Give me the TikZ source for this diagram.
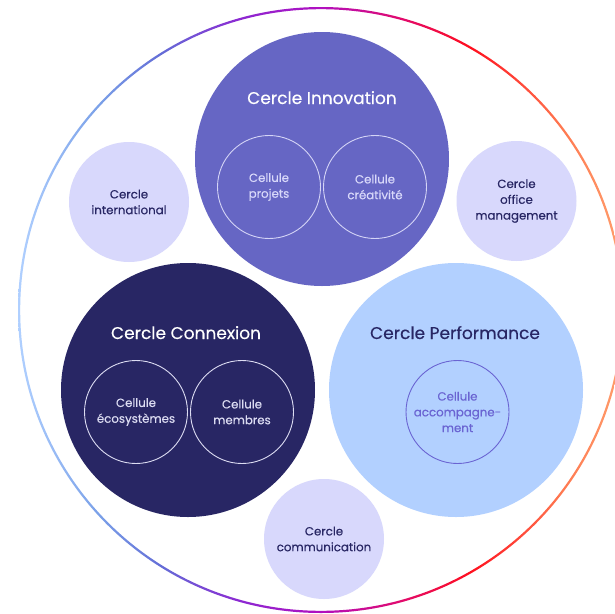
\documentclass[tikz,border=0pt]{standalone}
\usepackage{fontspec}
\setmainfont{Poppins}[FakeBold=0.35]
\usetikzlibrary{positioning}
\definecolor{innovc}{RGB}{102,102,196}
\definecolor{navyc}{RGB}{40,38,100}
\definecolor{perfc}{RGB}{178,208,255}
\definecolor{smallc}{RGB}{216,216,252}
\definecolor{celltxtA}{RGB}{216,216,250}
\definecolor{celllineA}{RGB}{212,212,246}
\definecolor{celllineB}{RGB}{220,220,242}
\definecolor{accc}{RGB}{106,100,210}
\definecolor{g1}{RGB}{176,208,255}
\definecolor{g2}{RGB}{122,160,232}
\definecolor{g3}{RGB}{100,110,215}
\definecolor{g4}{RGB}{140,40,210}
\definecolor{g5}{RGB}{176,16,192}
\definecolor{g6}{RGB}{225,10,110}
\definecolor{g7}{RGB}{255,15,30}
\definecolor{g8}{RGB}{255,120,80}
\definecolor{g9}{RGB}{255,160,110}
\pgfdeclarehorizontalshading{ringgrad}{100bp}{color(0bp)=(g1); color(25bp)=(g1); color(31.7bp)=(g2); color(36.7bp)=(g3); color(43.3bp)=(g4); color(49.9bp)=(g5); color(56.5bp)=(g6); color(62.3bp)=(g7); color(69.8bp)=(g8); color(75bp)=(g9); color(100bp)=(g9)}
\begin{document}
\begin{tikzpicture}[x=1pt,y=-1pt,
  bigc/.style={circle, minimum size=254pt, inner sep=0pt},
  smallcircle/.style={circle, minimum size=120pt, inner sep=0pt, fill=smallc, text=navyc, align=center, font=\fontsize{11.8}{15.8}\selectfont},
  cellc/.style={circle, minimum size=103pt, inner sep=0pt, draw, line width=0.9pt, align=center, font=\fontsize{11.8}{15.8}\selectfont},
  titlec/.style={anchor=base, font=\fontsize{17}{20}\selectfont}]
\useasboundingbox (0,0) rectangle (614,614);
\fill[white] (0,0) rectangle (614,614);
\coordinate (O) at (321,310);
\shade[shading=ringgrad, even odd rule] (O) circle (303pt) (O) circle (300.8pt);
% big circles
\node[bigc, fill=innovc] (innov) at (322,159) {};
\node[bigc, fill=navyc] (conn) at (188,390) {};
\node[bigc, fill=perfc] (perf) at (456,390) {};
% titles
\node[titlec, text=white] (tinnov) at (322,104) {Cercle Innovation};
\node[titlec, text=white] (tconn) at (186,339) {Cercle Connexion};
\node[titlec, text=navyc] (tperf) at (455,339) {Cercle Performance};
% cells
\node[cellc, draw=celllineA, text=celltxtA] (proj) at (269,187) {Cellule\\projets};
\node[cellc, draw=celllineA, text=celltxtA] (crea) at (375,187) {Cellule\\créativité};
\node[cellc, draw=celllineB, text=celllineB] (eco) at (136,412) {Cellule\\écosystèmes};
\node[cellc, draw=celllineB, text=celllineB] (memb) at (242,412) {Cellule\\membres};
\node[cellc, draw=accc, text=accc] (acc) at (457.5,412) {Cellule\\accompagne-\\ment};
% small circles
\node[smallcircle] (intl) at (129,202) {Cercle\\international};
\node[smallcircle] (office) at (516.5,201) {Cercle\\office\\management};
\node[smallcircle] (comm) at (324,539) {Cercle\\communication};
\end{tikzpicture}
\end{document}
